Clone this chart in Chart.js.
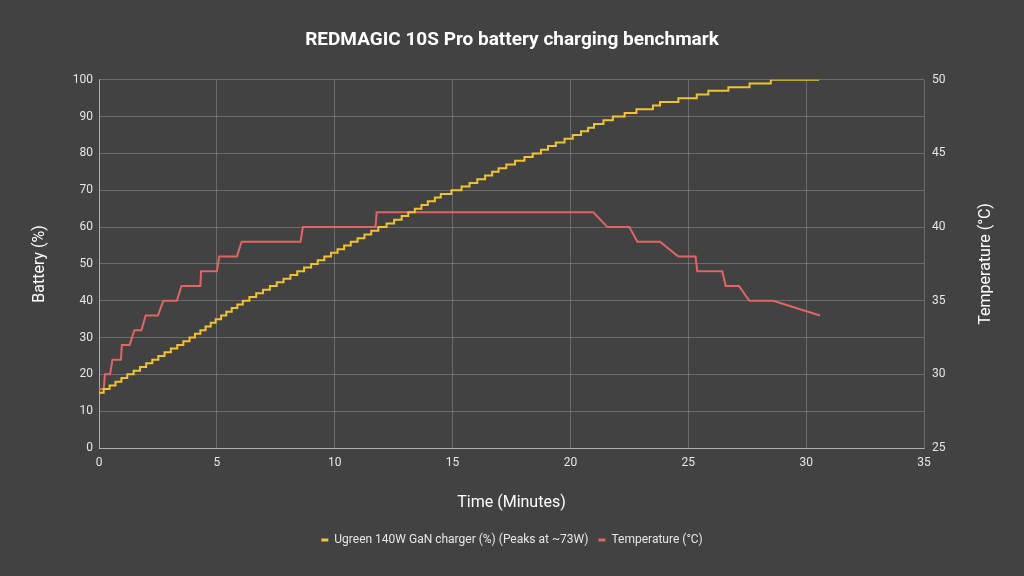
<!DOCTYPE html>
<html>
<head>
<meta charset="utf-8">
<script src="https://cdn.jsdelivr.net/npm/chart.js@4.4.1/dist/chart.umd.min.js"></script>
<style>
  html, body { margin: 0; padding: 0; background: #424242; }
  #wrap { width: 1024px; height: 576px; }
</style>
</head>
<body>
<div id="wrap"><canvas id="c" width="1024" height="576"></canvas></div>
<script>
// ---- Data ----
const chartTitle = 'REDMAGIC 10S Pro battery charging benchmark';
const batteryLabel = 'Ugreen 140W GaN charger (%) (Peaks at ~73W)';
const tempLabel = 'Temperature (°C)';

// time (minutes) at which the battery reaches each percentage
const batteryTimes = [
  0.00, 0.20, 0.45, 0.70, 0.95, 1.20, 1.47, 1.74, 2.00, 2.26,
  2.52, 2.78, 3.05, 3.32, 3.58, 3.84, 4.07, 4.30, 4.52, 4.74,
  4.95, 5.18, 5.40, 5.63, 5.87, 6.10, 6.38, 6.67, 6.96, 7.25,
  7.54, 7.83, 8.12, 8.41, 8.70, 9.00, 9.28, 9.56, 9.84, 10.12,
  10.40, 10.68, 10.97, 11.26, 11.55, 11.85, 12.20, 12.52, 12.84, 13.12,
  13.40, 13.68, 13.95, 14.25, 14.50, 14.95, 15.38, 15.72, 16.05, 16.38,
  16.68, 16.95, 17.28, 17.65, 18.05, 18.40, 18.75, 19.05, 19.38, 19.75,
  20.10, 20.45, 20.75, 21.00, 21.40, 21.80, 22.30, 22.80, 23.50, 23.80,
  24.58, 25.36, 25.85, 26.70, 27.60, 28.50, 30.55
];
const batteryValues = [
  15, 16, 17, 18, 19, 20, 21, 22, 23, 24,
  25, 26, 27, 28, 29, 30, 31, 32, 33, 34,
  35, 36, 37, 38, 39, 40, 41, 42, 43, 44,
  45, 46, 47, 48, 49, 50, 51, 52, 53, 54,
  55, 56, 57, 58, 59, 60, 61, 62, 63, 64,
  65, 66, 67, 68, 69, 70, 71, 72, 73, 74,
  75, 76, 77, 78, 79, 80, 81, 82, 83, 84,
  85, 86, 87, 88, 89, 90, 91, 92, 93, 94,
  95, 96, 97, 98, 99, 100, 100
];

const tempTimes = [
  0.00, 0.20, 0.25, 0.47, 0.57, 0.93, 0.97, 1.30, 1.50, 1.80,
  1.98, 2.50, 2.73, 3.30, 3.50, 4.30, 4.33, 5.00, 5.10, 5.85,
  6.05, 8.55, 8.65, 11.73, 11.78, 20.97, 21.57, 22.50, 22.84, 23.80,
  24.58, 25.31, 25.38, 26.44, 26.59, 27.15, 27.59, 28.60, 30.59
];
const tempValues = [
  29, 29, 30, 30, 31, 31, 32, 32, 33, 33,
  34, 34, 35, 35, 36, 36, 37, 37, 38, 38,
  39, 39, 40, 40, 41, 41, 40, 40, 39, 39,
  38, 38, 37, 37, 36, 36, 35, 35, 34
];

const xTitle = 'Time (Minutes)';
const yTitle = 'Battery (%)';
const y2Title = 'Temperature (°C)';

// ---- Chart ----
const batteryPts = batteryTimes.map((t, i) => ({ x: t, y: batteryValues[i] }));
const tempPts = tempTimes.map((t, i) => ({ x: t, y: tempValues[i] }));

const FONT = 'Roboto, "Noto Sans", "DejaVu Sans", sans-serif';
const gridColor = 'rgba(255,255,255,0.22)';
const tickColor = '#e6e6e6';

// right-axis title drawn reading bottom-to-top, like the reference
const rightTitlePlugin = {
  id: 'rightTitle',
  afterDraw: c => {
    const s = c.scales.y2;
    const ctx = c.ctx;
    ctx.save();
    ctx.translate(s.right - 18, (c.chartArea.top + c.chartArea.bottom) / 2);
    ctx.rotate(-Math.PI / 2);
    ctx.fillStyle = '#ffffff';
    ctx.font = '16px ' + FONT;
    ctx.textAlign = 'center';
    ctx.textBaseline = 'middle';
    ctx.fillText(y2Title, 0, 0);
    ctx.restore();
  }
};

new Chart(document.getElementById('c'), {
  type: 'line',
  data: {
    datasets: [
      {
        label: batteryLabel,
        data: batteryPts,
        borderColor: '#f1c232',
        backgroundColor: '#f1c232',
        borderWidth: 2,
        pointRadius: 0,
        stepped: true,
        yAxisID: 'y'
      },
      {
        label: tempLabel,
        data: tempPts,
        borderColor: '#e06666',
        backgroundColor: '#e06666',
        borderWidth: 2,
        pointRadius: 0,
        tension: 0,
        yAxisID: 'y2'
      }
    ]
  },
  options: {
    responsive: false,
    animation: false,
    layout: { padding: { left: 20, right: 20, top: 0, bottom: 20 } },
    plugins: {
      title: {
        display: true,
        text: chartTitle,
        color: '#ffffff',
        font: { family: FONT, size: 19, weight: 'bold' },
        padding: { top: 29, bottom: 28 }
      },
      legend: {
        display: true,
        position: 'bottom',
        labels: {
          color: '#e6e6e6',
          font: { family: FONT, size: 12 },
          boxWidth: 7,
          boxHeight: 3,
          padding: 10,
          generateLabels: chart =>
            Chart.defaults.plugins.legend.labels.generateLabels(chart)
              .map(l => Object.assign(l, { lineWidth: 0 }))
        }
      },
      tooltip: { enabled: false }
    },
    scales: {
      x: {
        type: 'linear',
        min: 0, max: 35,
        ticks: { stepSize: 5, color: tickColor, font: { family: FONT, size: 12 }, padding: 8 },
        grid: { color: gridColor, drawTicks: false },
        border: { color: 'rgba(255,255,255,0.45)' },
        title: { display: true, text: xTitle, color: '#ffffff', font: { family: FONT, size: 16 }, padding: { top: 0, bottom: 11 } },
        afterFit: s => { s.height = 76; }
      },
      y: {
        type: 'linear',
        position: 'left',
        min: 0, max: 100,
        ticks: { stepSize: 10, color: tickColor, font: { family: FONT, size: 12 }, padding: 6 },
        grid: { color: gridColor, drawTicks: false },
        border: { color: 'rgba(255,255,255,0.45)' },
        title: { display: true, text: yTitle, color: '#ffffff', font: { family: FONT, size: 16 }, padding: { top: 10, bottom: 0 } },
        afterFit: s => { s.width = 79; }
      },
      y2: {
        type: 'linear',
        position: 'right',
        min: 25, max: 50,
        ticks: { stepSize: 5, color: tickColor, font: { family: FONT, size: 12 }, padding: 8 },
        grid: { drawOnChartArea: false, drawTicks: false },
        border: { display: false },
        title: { display: false },
        afterFit: s => { s.width = 80; }
      }
    }
  },
  plugins: [{
    id: 'bg',
    beforeDraw: c => {
      const ctx = c.ctx;
      ctx.save();
      ctx.fillStyle = '#424242';
      ctx.fillRect(0, 0, c.width, c.height);
      ctx.restore();
    }
  }, rightTitlePlugin]
});
</script>
</body>
</html>
